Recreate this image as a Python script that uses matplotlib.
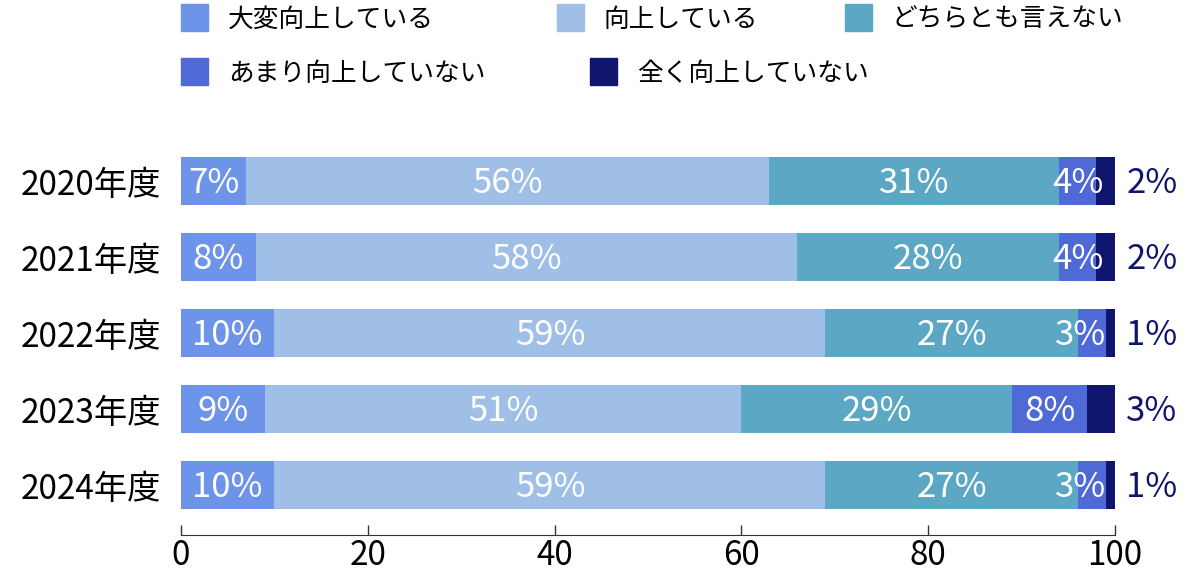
import matplotlib
matplotlib.use('Agg')
import matplotlib.pyplot as plt
from matplotlib.patches import Rectangle

plt.rcParams['font.family'] = ['Noto Sans CJK JP', 'DejaVu Sans']

# データ
years = ['2020年度', '2021年度', '2022年度', '2023年度', '2024年度']
series_names = ['大変向上している', '向上している', 'どちらとも言えない', 'あまり向上していない', '全く向上していない']
very_improved = [7, 8, 10, 9, 10]
improved = [56, 58, 59, 51, 59]
neutral = [31, 28, 27, 29, 27]
not_much = [4, 4, 3, 8, 3]
not_at_all = [2, 2, 1, 3, 1]

colors = ['#6d94e9', '#9fbfe7', '#5ca8c4', '#4f6ad6', '#10156d']
navy = '#10156d'

fig = plt.figure(figsize=(12, 5.71), dpi=100)
ax = fig.add_axes([181/1200, 1 - 535/571, (1115 - 181)/1200, (535 - 140)/571])

values = [very_improved, improved, neutral, not_much, not_at_all]
ypos = list(range(len(years)))
left = [0] * len(years)
for k, vals in enumerate(values):
    ax.barh(ypos, vals, left=left, height=0.63, color=colors[k], edgecolor='none')
    for i, v in enumerate(vals):
        if k == 4:
            # 最後の区分はバーの外側に表示
            ax.text(101.2, i + 0.03, '%d%%' % v, color=navy, fontsize=25, ha='left', va='center')
        elif v < 4:
            ax.text(left[i] + v + 0.1, i + 0.03, '%d%%' % v, color='white', fontsize=25, ha='right', va='center')
        else:
            ax.text(left[i] + v / 2, i + 0.03, '%d%%' % v, color='white', fontsize=25, ha='center', va='center')
    left = [l + v for l, v in zip(left, vals)]

ax.set_xlim(0, 100)
ax.set_ylim(4 + 50/76, -41/76)
ax.set_yticks(ypos)
ax.set_yticklabels(years, fontsize=24)
ax.tick_params(axis='y', length=0, pad=14)
ax.set_xticks([0, 20, 40, 60, 80, 100])
ax.tick_params(axis='x', direction='in', length=7, width=1, color='#333333', labelsize=24, pad=2)
for s in ['top', 'right', 'left']:
    ax.spines[s].set_visible(False)
ax.spines['bottom'].set_color('#333333')

# 凡例 (手動配置)
legend_pos = [(181, 18), (557, 18), (845, 18), (181, 72), (590, 72)]
for k, (px, py) in enumerate(legend_pos):
    fig.patches.append(Rectangle((px/1200, 1 - (py + 13)/571), 27/1200, 27/571,
                                 transform=fig.transFigure, color=colors[k]))
    fig.text((px + 47)/1200, 1 - (py + 2)/571, series_names[k], fontsize=18.5, ha='left', va='center')

fig.savefig('out.png', dpi=100)
